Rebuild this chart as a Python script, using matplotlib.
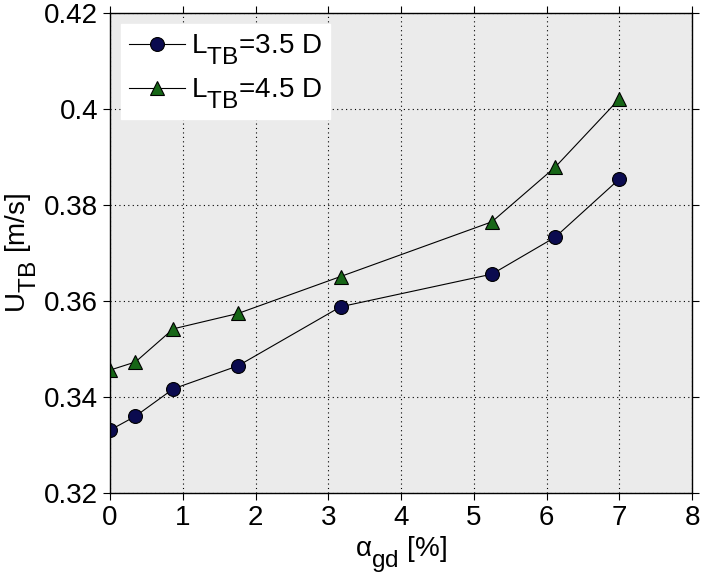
import numpy as np
import matplotlib.pyplot as plt
import matplotlib._mathtext as mathtext_internal

# data
alpha_gd = [0, 0.35, 0.87, 1.76, 3.17, 5.25, 6.12, 7.0]
u_35 = [0.3331, 0.3360, 0.3417, 0.3465, 0.3588, 0.3656, 0.3733, 0.3854]
u_45 = [0.3456, 0.3473, 0.3542, 0.3574, 0.3651, 0.3765, 0.3879, 0.4021]

x_ticks = [0, 1, 2, 3, 4, 5, 6, 7, 8]
y_ticks = [0.32, 0.34, 0.36, 0.38, 0.40, 0.42]
y_ticklabels = ['0.32', '0.34', '0.36', '0.38', '0.4', '0.42']

plt.rcParams['font.family'] = ['Liberation Sans', 'DejaVu Sans']
plt.rcParams['mathtext.fontset'] = 'custom'
plt.rcParams['mathtext.rm'] = 'Liberation Sans'
plt.rcParams['mathtext.it'] = 'Liberation Sans:italic'
# MATLAB-style subscripts: nearly full size and dropped lower
mathtext_internal.SHRINK_FACTOR = 0.88
mathtext_internal.FontConstantsBase.sub1 = 0.75
mathtext_internal.FontConstantsBase.sub2 = 0.9

fig = plt.figure(figsize=(7.03, 5.75), dpi=100)
ax = fig.add_axes([110 / 703, 1 - 493 / 575, 582 / 703, 480 / 575])
ax.set_facecolor('#ebebeb')

ax.plot(alpha_gd, u_35, '-o', color='black', lw=0.8, ms=10,
        mfc='#0b0b4f', mec='black', mew=0.8, label=r'L$_{\mathrm{TB}}$=3.5 D')
ax.plot(alpha_gd, u_45, '-^', color='black', lw=0.8, ms=10,
        mfc='#176617', mec='black', mew=0.8, label=r'L$_{\mathrm{TB}}$=4.5 D')

ax.set_xlim(0, 8)
ax.set_ylim(0.32, 0.42)
ax.set_xticks(x_ticks)
ax.set_yticks(y_ticks)
ax.set_yticklabels(y_ticklabels)
ax.tick_params(labelsize=20, direction='out', length=5, top=True, right=True)
ax.grid(True, color='black', linestyle=(0, (1, 3)), linewidth=0.8)
for s in ax.spines.values():
    s.set_linewidth(1.0)

ax.set_xlabel('α$_{\\mathrm{gd}}$ [%]', fontsize=20, labelpad=2)
ax.set_ylabel(r'U$_{\mathrm{TB}}$ [m/s]', fontsize=20, labelpad=4)

leg = ax.legend(loc='upper left', fontsize=20, frameon=True, fancybox=False,
                handlelength=2.0, handletextpad=0.2, borderaxespad=0.4,
                borderpad=0.3, labelspacing=0.35)
leg.get_frame().set_edgecolor('white')
leg.get_frame().set_facecolor('white')
leg.get_frame().set_alpha(1)

fig.savefig('out.png', dpi=100)
